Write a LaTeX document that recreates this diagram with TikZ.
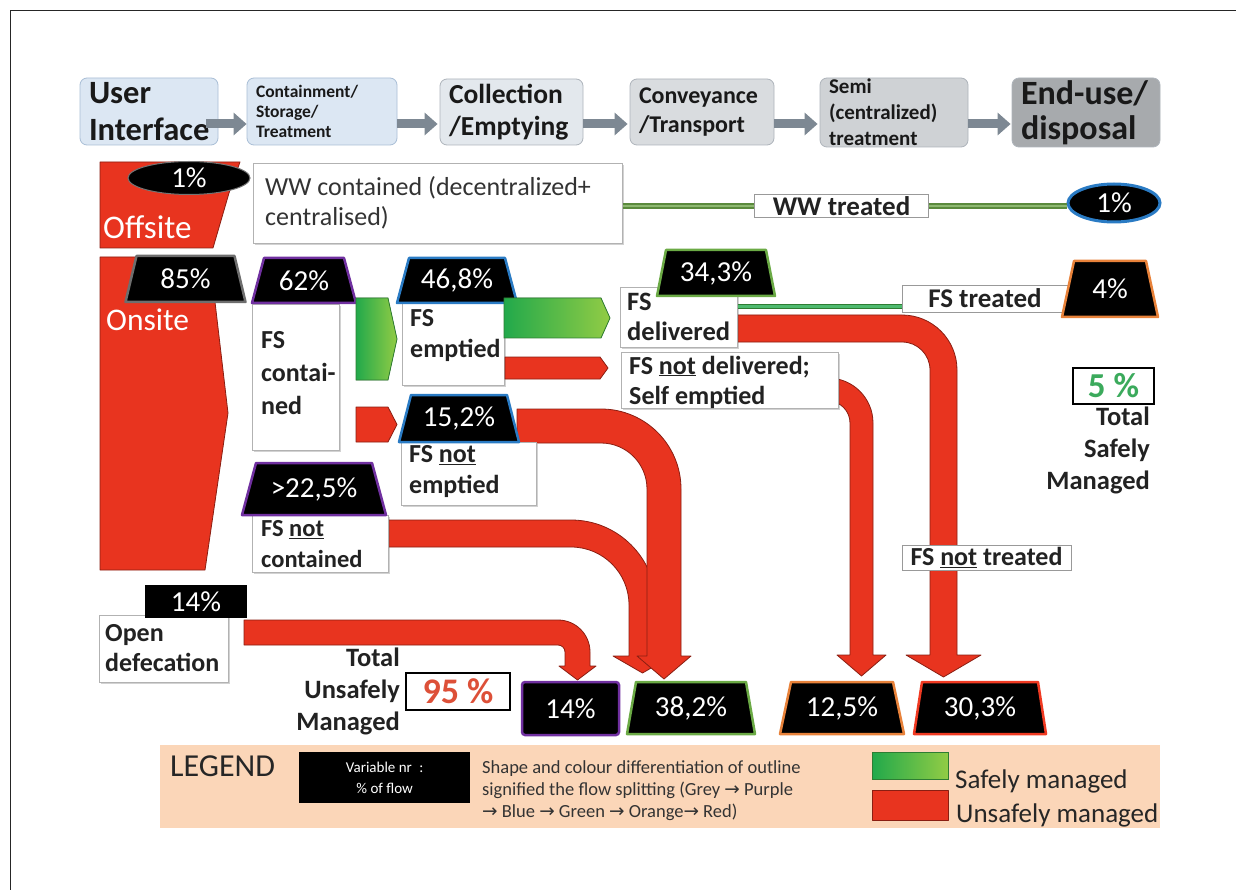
\documentclass[tikz,border=0pt]{standalone}
\usepackage{fontspec}
\setmainfont{Carlito}
\newfontfamily\symbolfont{DejaVu Sans}
\usetikzlibrary{arrows.meta,shapes.geometric,shadows}

\definecolor{flowred}{HTML}{E8341F}
\definecolor{flowedge}{HTML}{8A1E12}
\definecolor{safeD}{HTML}{22A94B}
\definecolor{safeL}{HTML}{92CC45}
\definecolor{safeedge}{HTML}{2E7D32}
\definecolor{splitgrey}{HTML}{6E6E6E}
\definecolor{splitpurple}{HTML}{7030A0}
\definecolor{splitblue}{HTML}{2A7BC4}
\definecolor{splitgreen}{HTML}{6BAA45}
\definecolor{splitorange}{HTML}{E8823A}
\definecolor{splitred}{HTML}{F03A22}
\definecolor{txt}{HTML}{222222}
\definecolor{hdrblue}{HTML}{DCE7F3}
\definecolor{hdrblueedge}{HTML}{A9BED6}
\definecolor{hdrpale}{HTML}{E3E8ED}
\definecolor{hdrgrey}{HTML}{D9DCDF}
\definecolor{hdrmid}{HTML}{CFD2D5}
\definecolor{hdrdark}{HTML}{A7AAAD}
\definecolor{hdredge}{HTML}{AEB4BB}
\definecolor{hdrarrow}{HTML}{7D8893}
\definecolor{wwgreen}{HTML}{5A8A3C}
\definecolor{wwlight}{HTML}{8DB870}
\definecolor{legendbg}{HTML}{FBD6B8}
\definecolor{goodtxt}{HTML}{3BAA5C}
\definecolor{badtxt}{HTML}{DD5038}

\newcommand{\setfs}[2]{\fontsize{#1}{#2}\selectfont}
\newcommand{\flowarr}{{\symbolfont\char"2192}}

% red flow band: horizontal from x0, turning down into an arrow
% #1 x0, #2 top y, #3 thickness, #4 outer right x, #5 outer radius,
% #6 y of arrow-head base, #7 head overhang, #8 tip y
\newcommand{\bandRD}[8]{%
  \filldraw[redshape] (#1,#2) -- ({#4-#5},#2)
    arc[start angle=-90,end angle=0,radius=#5] -- (#4,#6) -- ({#4+#7},#6)
    -- ({#4-#3/2},#8) -- ({#4-#3-#7},#6) -- ({#4-#3},#6) -- ({#4-#3},{#2+#5})
    arc[start angle=0,end angle=-90,radius={#5-#3}] -- (#1,{#2+#3}) -- cycle;}

% black trapezoid with coloured outline and a percentage
% #1 name, #2 centre x, #3 top y, #4 bottom y, #5 half top, #6 half bottom, #7 outline, #8 text
\newcommand{\trapnode}[8]{%
  \filldraw[fill=black, draw=#7, line width=2.5pt, line join=round]
    ({#2-#5},#3) -- ({#2+#5},#3) -- ({#2+#6},#4) -- ({#2-#6},#4) -- cycle;
  \node[pct] (#1) at (#2,{(#3+#4)/2}) {#8};}

\begin{document}
\begin{tikzpicture}[x=1pt,y=-1pt,
  redshape/.style={fill=flowred, draw=flowedge, line width=0.8pt, line join=round},
  greenshape/.style={left color=safeD, right color=safeL, draw=safeedge, line width=0.8pt},
  wbox/.style={fill=white, draw=black!30, line width=0.8pt, inner sep=0, anchor=north west,
    drop shadow={shadow xshift=2pt, shadow yshift=-2pt, opacity=0.25, fill=black!70}},
  lbl/.style={font=\setfs{26}{31}\bfseries, text=txt, align=left, inner sep=0, anchor=west},
  pct/.style={font=\setfs{29}{31}, text=white, inner sep=0},
  hdr/.style={rounded corners=7pt, line width=0.8pt, align=left, inner xsep=9pt,
    inner ysep=0pt, text=black!90},
  harrow/.style={draw=hdrarrow, line width=9pt, -{Triangle[length=13pt,width=22pt]}},
  total/.style={font=\setfs{26.5}{32}\bfseries, text=txt, align=right, inner sep=0, anchor=east},
  tag/.style={fill=white, draw=black!40, line width=0.8pt, inner sep=0, text=txt}]

\useasboundingbox (0,0) rectangle (1236,890);
\fill[white] (0,0) rectangle (1236,890);
\draw[black!85, line width=1.2pt] (10.5,890) -- (10.5,10.5) -- (1236,10.5);

% ---------- service chain header ----------
\node[hdr, fill=hdrblue, draw=hdrblueedge, minimum width=138, minimum height=67,
  text width=120, font=\setfs{32.5}{37}\bfseries] (ui) at (149,111.5) {User\\Interface};
\node[hdr, fill=hdrblue, draw=hdrblueedge, minimum width=150, minimum height=67,
  text width=132, font=\setfs{17.5}{20}\bfseries] (cst) at (322,111.5) {Containment/\\Storage/\\Treatment};
\node[hdr, fill=hdrpale, draw=hdredge, minimum width=143, minimum height=66,
  text width=125, font=\setfs{27.5}{32}\bfseries] (col) at (511.5,112) {Collection\\/Emptying};
\node[hdr, fill=hdrgrey, draw=hdredge, minimum width=144, minimum height=66,
  text width=126, font=\setfs{24}{29}\bfseries] (con) at (702,112) {Conveyance\\/Transport};
\node[hdr, fill=hdrmid, draw=hdredge, minimum width=148, minimum height=69,
  text width=130, font=\setfs{21}{26}\bfseries] (semi) at (894,112.5) {Semi\\(centralized)\\treatment};
\node[hdr, fill=hdrdark, draw=hdredge, minimum width=148, minimum height=69,
  text width=130, font=\setfs{34}{35}\bfseries] (end) at (1086,112.5) {End-use/\\disposal};

\draw[harrow] ([xshift=-12pt,yshift=-12.5pt]ui.east) -- ([yshift=-12.5pt]cst.west);
\draw[harrow] ([yshift=-12.5pt]cst.east) -- ([xshift=-2pt,yshift=-12pt]col.west);
\draw[harrow] ([yshift=-12pt]col.east) -- ([xshift=-2pt,yshift=-12pt]con.west);
\draw[harrow] ([yshift=-12pt]con.east) -- ([xshift=-2pt,yshift=-11.5pt]semi.west);
\draw[harrow] ([yshift=-11.5pt]semi.east) -- ([xshift=-1pt,yshift=-11.5pt]end.west);

% ---------- offsite ----------
\filldraw[redshape] (100,162) -- (240,162) -- (229,193) -- (213,248) -- (100,248) -- cycle;
\node[font=\setfs{33}{34}, text=white, inner sep=0, anchor=west] (offtxt) at (103,227) {Offsite};
\node[ellipse, fill=black, draw=black!55, line width=1pt, minimum width=122, minimum height=33, pct]
  (p1a) at (189,178) {1\%};

\node[wbox, minimum width=369, minimum height=80] (wwc) at (253,163) {};
\node[font=\setfs{26}{30}, text=black!80, align=left, inner sep=0, anchor=west] (wwct) at (265,203)
  {WW contained (decentralized+\\centralised)};
\node[ellipse, fill=black, draw=splitblue, line width=3pt, minimum width=92, minimum height=38, pct]
  (p1b) at (1114,203) {1\%};
\node[tag, minimum width=174, minimum height=23, font=\setfs{27}{28}\bfseries] (wwt) at (841.5,206) {WW treated};
\draw[draw=wwgreen, double=wwlight, double distance=2pt, line width=2pt]
  (wwc.east |- wwt.west) -- (wwt.west);
\draw[draw=wwgreen, double=wwlight, double distance=2pt, line width=2pt]
  (wwt.east) -- (wwt.east -| p1b.west);

% ---------- onsite ----------
\filldraw[redshape] (100,257) -- (212,257) -- (215,302) -- (228,413) -- (205,570) -- (100,570) -- cycle;
\node[font=\setfs{31.5}{33}, text=white, inner sep=0, anchor=west] (ontxt) at (106,320) {Onsite};
\trapnode{p85}{185.5}{256}{302}{49}{60}{splitgrey}{85\%}

% flow bands (behind the boxes)
\bandRD{736}{315}{27}{957}{55}{655}{24}{677}
\bandRD{800}{378}{23}{873}{45}{655}{13}{676}
\bandRD{388}{520}{27}{656}{85}{656}{16}{673}
\bandRD{517}{409}{34}{681}{80}{656}{10}{679}
\bandRD{244}{620}{25}{590}{32}{666}{6}{680}

% containment
\node[wbox, minimum width=87, minimum height=146] (fsc) at (252,304) {};
\node[lbl, font=\setfs{26}{33}\bfseries] (fsct) at (261,373) {FS\\contai-\\ned};
\trapnode{p62}{304}{258}{303}{40}{52}{splitpurple}{62\%}

\filldraw[greenshape] (356,298) -- (388,298) -- (397,339) -- (388,380) -- (356,380) -- cycle;
\filldraw[redshape] (356,407) -- (388,407) -- (397,424.5) -- (388,442) -- (356,442) -- cycle;

% emptying
\node[wbox, minimum width=102, minimum height=82] (fse) at (402,303) {};
\node[lbl] (fset) at (410,336) {FS\\emptied};
\trapnode{p468}{457}{258}{303}{48}{60}{splitblue}{46,8\%}

\filldraw[greenshape] (504,298) -- (601,298) -- (610,318) -- (601,338) -- (504,338) -- cycle;
\filldraw[redshape] (505,357) -- (600,357) -- (608,368) -- (600,379) -- (505,379) -- cycle;

\node[wbox, minimum width=135, minimum height=63] (fsne) at (401,442) {};
\node[lbl] (fsnet) at (409,472) {FS \underline{not}\\emptied};
\trapnode{p152}{459}{395}{442}{48}{60}{splitblue}{15,2\%}

\node[wbox, minimum width=136, minimum height=57] (fsnc) at (252,515) {};
\node[lbl, font=\setfs{24.5}{31}\bfseries] (fsnct) at (261,544) {FS \underline{not}\\contained};
\trapnode{p225}{314}{463}{515}{58}{72}{splitpurple}{>22,5\%}

% transport
\node[wbox, minimum width=117, minimum height=60] (fsd) at (620,287) {};
\node[lbl, font=\setfs{26.5}{30}\bfseries] (fsdt) at (627,317) {FS\\delivered};
\trapnode{p343}{716}{250}{296}{50}{59}{splitgreen}{34,3\%}

\node[wbox, minimum width=217, minimum height=56] (fsnd) at (621,352) {};
\node[lbl, font=\setfs{26}{30}\bfseries] (fsndt) at (629,382) {FS \underline{not} delivered;\\Self emptied};

% treatment
\draw[draw=safeedge, double=safeD!80!white, double distance=3pt, line width=1pt]
  (fsd.east |- 0,307) -- (1062,307);
\node[tag, minimum width=166, minimum height=27, font=\setfs{27}{28}\bfseries] (fst) at (985,298.5) {FS treated};
\trapnode{p4}{1110}{261}{317}{36}{48}{splitorange}{4\%}

\node[tag, minimum width=169, minimum height=25, font=\setfs{26}{27}\bfseries] (fsnt) at (986.5,557.5)
  {FS \underline{not} treated};

\node[draw=black, line width=1.5pt, fill=white, minimum width=81, minimum height=36, inner sep=0,
  font=\setfs{35}{36}\bfseries, text=goodtxt] (safe) at (1113.5,386) {5 \%};
\node[total] (safet) at (1150,450) {Total\\Safely\\Managed};

% ---------- open defecation ----------
\node[wbox, minimum width=129, minimum height=67] (od) at (99,615) {};
\node[lbl, font=\setfs{26}{30}\bfseries] (odt) at (105,648) {Open\\defecation};
\node[fill=black, minimum width=102, minimum height=33, inner sep=0, pct] (p14a) at (196,601.5) {14\%};

% ---------- totals ----------
\node[total] (unsafet) at (400,691) {Total\\Unsafely\\Managed};
\node[draw=black, line width=1.5pt, fill=white, minimum width=104, minimum height=37, inner sep=0,
  font=\setfs{36}{37}\bfseries, text=badtxt] (unsafe) at (458,691.5) {95 \%};

\node[fill=black, draw=splitpurple, line width=2.5pt, rounded corners=3pt, minimum width=97,
  minimum height=53, inner sep=0, pct] (p14b) at (570.5,708.5) {14\%};
\trapnode{p382}{691}{682}{734}{55}{64}{splitgreen}{38,2\%}
\trapnode{p125}{842}{682}{734}{51}{62}{splitorange}{12,5\%}
\trapnode{p303}{980}{682}{734}{58}{66}{splitred}{30,3\%}

% ---------- legend ----------
\node[fill=legendbg, minimum width=1000, minimum height=83, inner sep=0, anchor=north west] (leg) at (160,745) {};
\node[font=\setfs{32}{33}, text=black!85, inner sep=0, anchor=west] (legt) at (170,766) {LEGEND};
\node[fill=black, minimum width=171, minimum height=51, inner sep=0, anchor=north west] (legbox) at (299,752) {};
\node[font=\setfs{15}{21}, text=white, align=center, inner sep=0] (legboxt) at (legbox.center)
  {Variable nr\enspace:\\\% of flow};
\node[font=\setfs{18.5}{22}, text=black!80, align=left, inner sep=0, anchor=north west] (legdesc) at (482,760)
  {Shape and colour differentiation of outline\\
   signified the flow splitting (Grey \flowarr{} Purple\\
   \flowarr{} Blue \flowarr{} Green \flowarr{} Orange\flowarr{} Red)};
\node[greenshape, minimum width=76, minimum height=27, inner sep=0, anchor=north west] (legsafe) at (872,752) {};
\node[redshape, minimum width=76, minimum height=30, inner sep=0, anchor=north west] (legunsafe) at (872,790) {};
\node[font=\setfs{27}{29}, text=black!85, inner sep=0, anchor=west] (legsafet) at (955,781) {Safely managed};
\node[font=\setfs{27}{29}, text=black!85, inner sep=0, anchor=west] (legunsafet) at (956,815) {Unsafely managed};

\end{tikzpicture}
\end{document}
